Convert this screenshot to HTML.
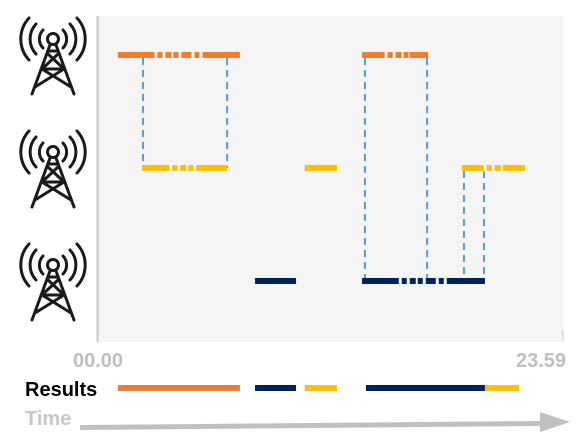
<!DOCTYPE html>
<html><head><meta charset="utf-8"><style>
html,body{margin:0;padding:0;background:#fff;}
svg{display:block;font-family:"Liberation Sans",sans-serif;}
</style></head><body>
<svg id="chart" width="581" height="441" viewBox="0 0 581 441">
<rect x="97" y="16" width="466" height="326" fill="#f5f5f5"/>
<line x1="97.5" y1="16" x2="97.5" y2="342" stroke="#c8c8c8" stroke-width="2"/>
<line x1="563" y1="330" x2="563" y2="342" stroke="#c8c8c8" stroke-width="1"/>
<g id="towers"></g>
<g id="links"></g>
<g id="segs"></g>
<g id="results"></g>
<text x="73" y="367" font-size="20" font-weight="bold" fill="#bfbfbf">00.00</text>
<text x="516" y="367" font-size="20" font-weight="bold" fill="#bfbfbf">23.59</text>
<text x="25" y="396" font-size="20" font-weight="bold" fill="#000">Results</text>
<text x="25" y="425" font-size="20" font-weight="bold" fill="#c8c8c8">Time</text>
<polygon points="80,425 540,421 540,412 570,422 540,432 540,426 80,430" fill="#c0c0c0"/>
</svg>
<script>
const rows = ["tower-a","tower-b","tower-c"];
const segRow =   [0,0,1,1,1,2,2];
const segStart = [1.08,13.65,2.32,10.7,18.8,8.14,13.65];
const segEnd =   [7.36,17.05,6.7,12.36,22.04,10.25,19.98];
const segColor = ["#ed7d31","#ed7d31","#ffc000","#ffc000","#ffc000","#002060","#002060"];
const linkTime = [2.37,6.7,13.8,17.0,18.9,19.93];
const linkFrom = [0,0,0,0,1,1];
const linkTo =   [1,1,2,2,2,2];
const resStart = [1.08,8.14,10.7,13.85,19.98];
const resEnd =   [7.36,10.25,12.36,19.98,21.73];
const resColor = ["#ed7d31","#002060","#ffc000","#002060","#ffc000"];
const NS="http://www.w3.org/2000/svg";
const x = h => 97 + h/24*466;
const y = r => 55 + r*113;
function mk(tag, attrs, parent){const e=document.createElementNS(NS,tag);for(const k in attrs)e.setAttribute(k,attrs[k]);document.getElementById(parent).appendChild(e);return e;}
rows.forEach((r,i)=>{
  const cy=y(i)-16;
  const g=mk("g",{transform:"translate(53,"+cy+")",fill:"none",stroke:"#1a1a1a","stroke-width":"3","stroke-linecap":"round"},"towers");
  
  
  g.innerHTML='<circle cx="0" cy="0" r="5.5"/>'+
  '<path d="M-10,-9 A13,13 0 0,0 -10,9 M10,-9 A13,13 0 0,1 10,9 M-17,-15 A22,22 0 0,0 -17,15 M17,-15 A22,22 0 0,1 17,15 M-24,-21 A31,31 0 0,0 -24,21 M24,-21 A31,31 0 0,1 24,21"/>'+
  '<path d="M-3,6 L-21,55 M3,6 L21,55 M-5,12 L5,12 M-6,14 L11,30 M6,14 L-11,30 M-11,30 L11,30 M-11,30 L18,48 M11,30 L-18,48"/>';
});
linkTime.forEach((t,i)=>{
  const l=mk("line",{x1:x(t),x2:x(t),y1:y(linkFrom[i])+3,y2:y(linkTo[i]),stroke:"#5b9bd5","stroke-width":"2","stroke-dasharray":"7 5"},"links");
  
  
});
segStart.forEach((s,i)=>{
  const x1=x(s), x2=x(segEnd[i]), yy=y(segRow[i]);
  const l=mk("line",{x1:x1,x2:x2,y1:yy,y2:yy,stroke:segColor[i],"stroke-width":"6"},"segs");
  
  
  const L=x2-x1;
  if(L>50){
    const g=mk("line",{x1:x1+L*0.25,x2:x1+L*0.72,y1:yy,y2:yy,stroke:"#f5f5f5","stroke-width":"7","stroke-dasharray":"0 6 3 5 3 6 2 5 3 4"},"segs");
    
    
  }
});
resStart.forEach((s,i)=>{
  const l=mk("line",{x1:x(s),x2:x(resEnd[i]),y1:388,y2:388,stroke:resColor[i],"stroke-width":"6"},"results");
  
  
});
</script>
</body></html>
